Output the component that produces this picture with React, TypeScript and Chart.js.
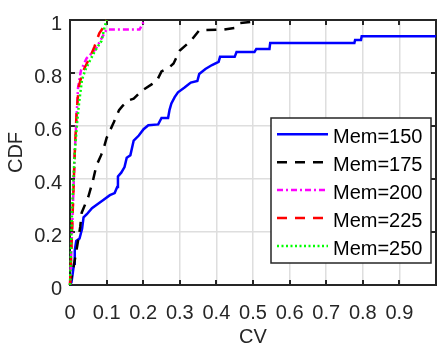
import React, { useEffect, useRef } from "react";
import { Chart, registerables } from "chart.js";

Chart.register(...registerables);

// ---- data ----
const seriesLabels = ["Mem=150", "Mem=175", "Mem=200", "Mem=225", "Mem=250"];
const seriesColors = ["#0000ff", "#000000", "#ff00ff", "#ff0000", "#00ff00"];

const mem150CV = [0, 0.004, 0.008, 0.011, 0.013, 0.017, 0.026, 0.033, 0.037, 0.046, 0.06, 0.073, 0.091, 0.109, 0.122, 0.129, 0.131, 0.14, 0.149, 0.155, 0.165, 0.174, 0.188, 0.201, 0.214, 0.241, 0.25, 0.268, 0.272, 0.277, 0.286, 0.295, 0.313, 0.33, 0.348, 0.353, 0.37, 0.388, 0.406, 0.41, 0.45, 0.455, 0.504, 0.509, 0.545, 0.547, 0.777, 0.779, 0.795, 0.797, 1];
const mem150CDF = [0, 0.01, 0.05, 0.08, 0.13, 0.166, 0.175, 0.212, 0.255, 0.267, 0.29, 0.303, 0.321, 0.339, 0.347, 0.37, 0.41, 0.424, 0.445, 0.48, 0.49, 0.545, 0.564, 0.588, 0.603, 0.606, 0.63, 0.63, 0.661, 0.685, 0.709, 0.727, 0.745, 0.764, 0.77, 0.796, 0.815, 0.83, 0.842, 0.861, 0.861, 0.879, 0.879, 0.891, 0.891, 0.913, 0.913, 0.925, 0.925, 0.939, 0.939];

const mem175CV = [0, 0.003, 0.01, 0.02, 0.028, 0.032, 0.05, 0.062, 0.072, 0.085, 0.093, 0.1, 0.12, 0.134, 0.143, 0.16, 0.174, 0.196, 0.223, 0.237, 0.25, 0.27, 0.283, 0.3, 0.33, 0.353, 0.42, 0.45, 0.463, 0.5, 0.51];
const mem175CDF = [0, 0.02, 0.07, 0.15, 0.22, 0.273, 0.333, 0.39, 0.45, 0.49, 0.52, 0.555, 0.615, 0.66, 0.675, 0.697, 0.703, 0.733, 0.757, 0.77, 0.806, 0.82, 0.836, 0.885, 0.921, 0.961, 0.964, 0.97, 0.988, 0.994, 1];

const mem200CV = [0, 0.003, 0.008, 0.013, 0.017, 0.022, 0.03, 0.045, 0.07, 0.09, 0.1, 0.19, 0.2, 0.205];
const mem200CDF = [0, 0.1, 0.3, 0.5, 0.61, 0.745, 0.81, 0.855, 0.89, 0.94, 0.964, 0.964, 0.99, 1];

const mem225CV = [0, 0.003, 0.008, 0.013, 0.018, 0.024, 0.034, 0.04, 0.055, 0.067, 0.08, 0.09, 0.1];
const mem225CDF = [0, 0.1, 0.3, 0.5, 0.65, 0.75, 0.8, 0.82, 0.86, 0.9, 0.95, 0.97, 1];

const mem250CV = [0, 0.002, 0.006, 0.013, 0.02, 0.025, 0.033, 0.042, 0.055, 0.069, 0.086, 0.09, 0.095, 0.1];
const mem250CDF = [0, 0.1, 0.3, 0.5, 0.62, 0.69, 0.776, 0.812, 0.848, 0.885, 0.921, 0.945, 0.976, 1];

const xTickLabels = ["0", "0.1", "0.2", "0.3", "0.4", "0.5", "0.6", "0.7", "0.8", "0.9"];
const yTickLabels = ["0", "0.2", "0.4", "0.6", "0.8", "1"];
const xTitle = "CV";
const yTitle = "CDF";

const allCV = [mem150CV, mem175CV, mem200CV, mem225CV, mem250CV];
const allCDF = [mem150CDF, mem175CDF, mem200CDF, mem225CDF, mem250CDF];
const dashes: number[][] = [[], [10, 8], [6, 3, 2, 3], [10, 8], [2, 2.5]];

const AXIS = "#262626";
const FONT = '"Liberation Sans", Arial, Helvetica, sans-serif';

const framePlugin = {
  id: "frame",
  beforeDatasetsDraw(chart: any) {
    const { ctx, chartArea } = chart;
    const { left, right, top, bottom } = chartArea;
    ctx.save();
    ctx.strokeStyle = AXIS;
    ctx.lineWidth = 2;
    ctx.setLineDash([]);
    ctx.strokeRect(left, top, right - left, bottom - top);
    const tl = 5;
    const xs = chart.scales.x;
    const ys = chart.scales.y;
    ctx.beginPath();
    xs.ticks.forEach((t: any) => {
      const px = Math.round(xs.getPixelForValue(t.value));
      ctx.moveTo(px, bottom);
      ctx.lineTo(px, bottom - tl);
      ctx.moveTo(px, top);
      ctx.lineTo(px, top + tl);
    });
    ys.ticks.forEach((t: any) => {
      const py = Math.round(ys.getPixelForValue(t.value));
      ctx.moveTo(left, py);
      ctx.lineTo(left + tl, py);
      ctx.moveTo(right, py);
      ctx.lineTo(right - tl, py);
    });
    ctx.stroke();
    ctx.restore();
  },
};

const legendPlugin = {
  id: "boxLegend",
  afterDraw(chart: any) {
    const ctx = chart.ctx;
    const bx = 271, by = 118, bw = 160, bh = 145;
    ctx.save();
    ctx.fillStyle = "#ffffff";
    ctx.fillRect(bx, by, bw, bh);
    ctx.strokeStyle = AXIS;
    ctx.lineWidth = 1.5;
    ctx.setLineDash([]);
    ctx.strokeRect(bx, by, bw, bh);
    chart.data.datasets.forEach((ds: any, i: number) => {
      const ly = by + 16.3 + i * 27.9;
      ctx.beginPath();
      ctx.setLineDash(ds.borderDash || []);
      ctx.strokeStyle = ds.borderColor;
      ctx.lineWidth = ds.borderWidth;
      ctx.moveTo(bx + 6, ly);
      ctx.lineTo(bx + 57, ly);
      ctx.stroke();
      ctx.setLineDash([]);
      ctx.fillStyle = "#000000";
      ctx.font = "20px " + FONT;
      ctx.textBaseline = "alphabetic";
      ctx.textAlign = "left";
      ctx.fillText(ds.label, bx + 62, by + 25.3 + i * 27.9);
    });
    ctx.restore();
  },
};

export default function App() {
  const ref = useRef<HTMLCanvasElement>(null);
  useEffect(() => {
    if (!ref.current) return;
    Chart.defaults.font.family = FONT;
    const datasets = seriesLabels.map((label, i) => ({
      label,
      data: allCV[i].map((x, j) => ({ x, y: allCDF[i][j] })),
      borderColor: seriesColors[i],
      backgroundColor: seriesColors[i],
      borderWidth: 2.5,
      borderDash: dashes[i],
      pointRadius: 0,
      tension: 0,
      fill: false,
      clip: false as any,
      order: seriesLabels.length - i,
    }));
    const chart = new Chart(ref.current, {
      type: "line",
      data: { datasets },
      plugins: [framePlugin, legendPlugin],
      options: {
        animation: false,
        responsive: false,
        devicePixelRatio: 1,
        layout: { padding: { top: 10, right: 9, left: 0, bottom: 0 } },
        plugins: { legend: { display: false }, tooltip: { enabled: false } },
        scales: {
          x: {
            type: "linear",
            min: 0,
            max: 1,
            afterFit: (s: any) => { s.height = 66; },
            ticks: {
              stepSize: 0.1,
              autoSkip: false,
              maxRotation: 0,
              padding: 16,
              color: AXIS,
              font: { size: 20 },
              callback: (_v: any, i: number) => xTickLabels[i] ?? "",
            },
            grid: { color: "#dedede", lineWidth: 1.5, drawTicks: false },
            border: { display: false },
            title: { display: true, text: xTitle, color: AXIS, font: { size: 20 }, padding: { top: 0, bottom: 1.5 } },
          },
          y: {
            type: "linear",
            min: 0,
            max: 1,
            afterFit: (s: any) => { s.width = 70; },
            ticks: {
              stepSize: 0.2,
              autoSkip: false,
              padding: 8,
              labelOffset: 4,
              color: AXIS,
              font: { size: 20 },
              callback: (_v: any, i: number) => yTickLabels[i] ?? "",
            },
            grid: { color: "#dedede", lineWidth: 1.5, drawTicks: false },
            border: { display: false },
            title: { display: true, text: yTitle, color: AXIS, font: { size: 20 }, padding: { top: 4, bottom: 0 } },
          },
        },
      },
    });
    return () => chart.destroy();
  }, []);
  return (
    <div style={{ position: "fixed", left: 0, top: 0, width: 442, height: 351, overflow: "hidden", background: "#fff" }}>
      <canvas ref={ref} width={452} height={351} style={{ display: "block", width: 452, height: 351 }} />
    </div>
  );
}
